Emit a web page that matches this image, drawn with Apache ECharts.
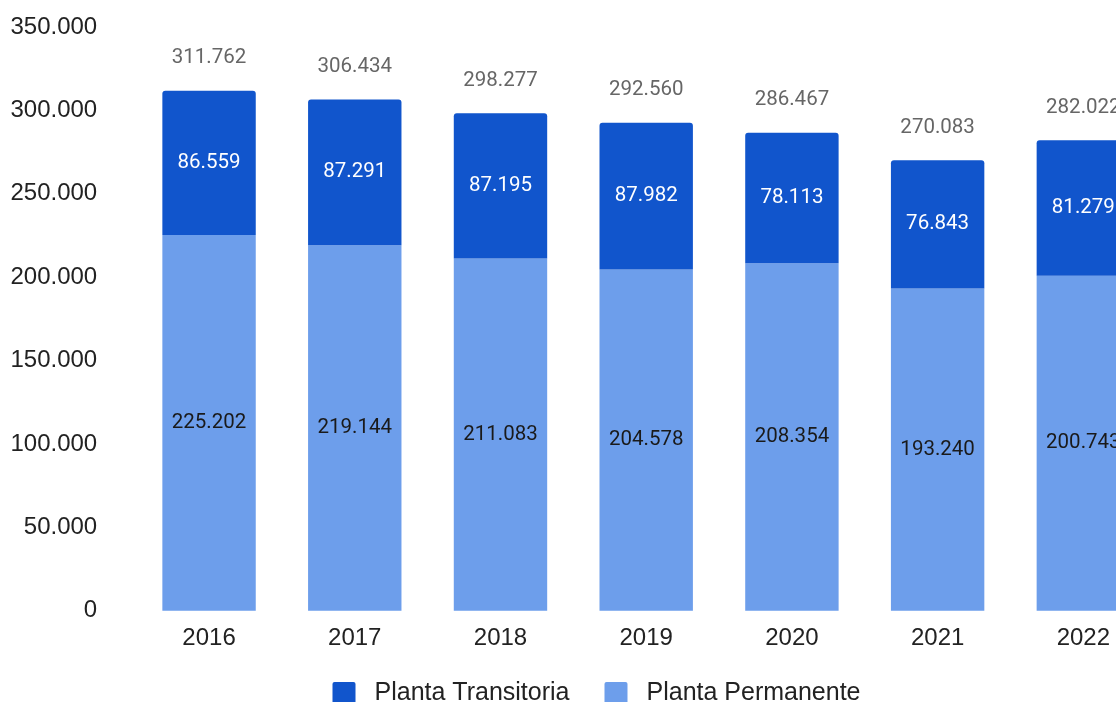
<!DOCTYPE html>
<html>
<head>
<meta charset="utf-8">
<script src="https://cdn.jsdelivr.net/npm/echarts@6/dist/echarts.min.js"></script>
<style>
html,body{margin:0;padding:0;background:#fff;}
#chart{width:1116px;height:702px;}
</style>
</head>
<body>
<div id="chart"></div>
<script>
const categories = ['2016', '2017', '2018', '2019', '2020', '2021', '2022'];
const permanente = [225202, 219144, 211083, 204578, 208354, 193240, 200743];
const transitoria = [86559, 87291, 87195, 87982, 78113, 76843, 81279];
const totals = [311762, 306434, 298277, 292560, 286467, 270083, 282022];
const yTicks = { min: 0, max: 350000, interval: 50000 };

function fmt(v) {
  return String(Math.round(v)).replace(/\B(?=(\d{3})+(?!\d))/g, '.');
}

const chart = echarts.init(document.getElementById('chart'), null, { renderer: 'canvas' });
chart.setOption({
  animation: false,
  backgroundColor: '#ffffff',
  grid: { left: 136.2, top: 26.9, width: 1020, height: 583.8, containLabel: false, outerBoundsMode: 'none' },
  legend: {
    data: ['Planta Transitoria', 'Planta Permanente'],
    left: 332.5,
    top: 681,
    padding: 0,
    itemWidth: 23,
    itemHeight: 23,
    itemGap: 35,
    icon: 'path://M2,0 L21,0 Q23,0 23,2 L23,21 Q23,23 21,23 L2,23 Q0,23 0,21 L0,2 Q0,0 2,0 Z',
    textStyle: { fontFamily: 'Liberation Sans, Arial, sans-serif', fontSize: 25, color: '#222', padding: [0, 0, 0, 14] }
  },
  xAxis: {
    type: 'category',
    data: categories,
    axisLine: { show: false },
    axisTick: { show: false },
    axisLabel: { margin: 16, fontFamily: 'Liberation Sans, Arial, sans-serif', fontSize: 24, color: '#222' }
  },
  yAxis: {
    type: 'value',
    min: yTicks.min,
    max: yTicks.max,
    interval: yTicks.interval,
    splitLine: { show: false },
    axisLine: { show: false },
    axisTick: { show: false },
    axisLabel: { margin: 39, fontFamily: 'Liberation Sans, Arial, sans-serif', fontSize: 24, color: '#222', formatter: fmt }
  },
  series: [
    {
      name: 'Planta Permanente',
      type: 'bar',
      stack: 'total',
      barWidth: 93.4,
      data: permanente,
      itemStyle: { color: '#6d9eeb' },
      label: { show: true, position: 'inside', fontFamily: 'Roboto, sans-serif', fontSize: 20.5, color: '#1a1a1a', formatter: p => fmt(p.value) }
    },
    {
      name: 'Planta Transitoria',
      type: 'bar',
      stack: 'total',
      barWidth: 93.4,
      data: transitoria,
      itemStyle: { color: '#1155cc', borderRadius: [3, 3, 0, 0] },
      label: { show: true, position: 'inside', fontFamily: 'Roboto, sans-serif', fontSize: 20.5, color: '#ffffff', formatter: p => fmt(p.value) }
    },
    {
      name: 'Total',
      type: 'bar',
      barWidth: 93.4,
      barGap: '-100%',
      z: 1,
      data: totals,
      itemStyle: { color: 'rgba(0,0,0,0)' },
      label: { show: true, position: 'top', distance: 22, fontFamily: 'Roboto, sans-serif', fontSize: 20.5, color: '#666666', formatter: p => fmt(p.value) }
    }
  ]
});
</script>
</body>
</html>
